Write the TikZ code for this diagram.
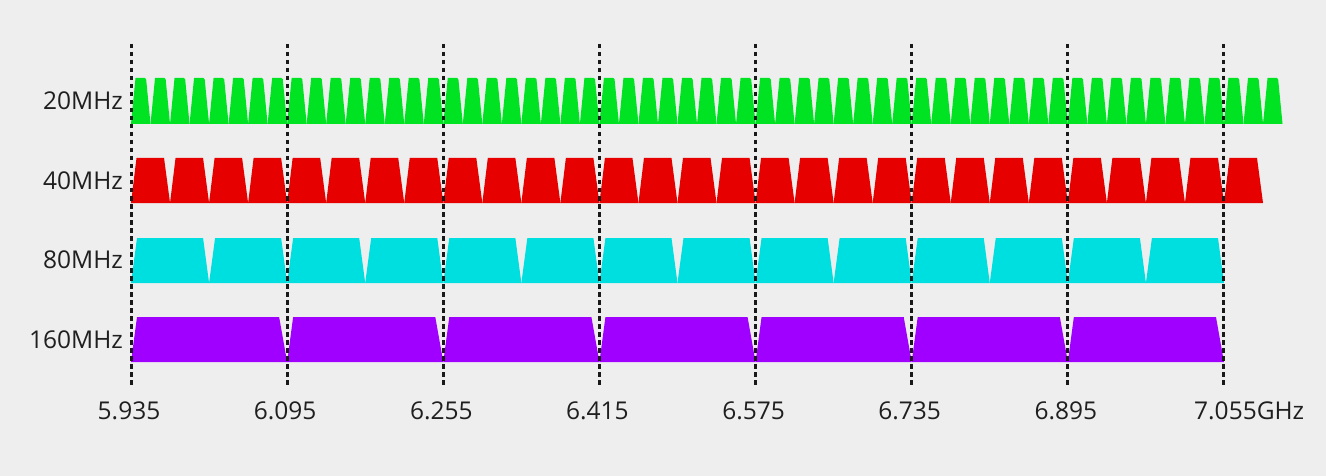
\documentclass[tikz,border=0pt]{standalone}
\usepackage{fontspec}
\setmainfont{Open Sans}
\definecolor{bg}{HTML}{EEEEEE}
\definecolor{cgreen}{HTML}{00E322}
\definecolor{cred}{HTML}{E60000}
\definecolor{ccyan}{HTML}{00DFDF}
\definecolor{cpurple}{HTML}{A000FF}
\tikzset{
  grid line/.style={line width=3pt, dash pattern=on 4.5pt off 3.5pt, black!90},
  rowlabel/.style={anchor=east, font=\fontsize{24.5}{26}\selectfont, text=black!88, inner sep=0pt},
  freqlabel/.style={anchor=base, font=\fontsize{24.5}{26}\selectfont, text=black!88, inner sep=0pt},
}
\begin{document}
\begin{tikzpicture}[x=1pt,y=-1pt]
\useasboundingbox (0,0) rectangle (1326,476);
\fill[bg] (0,0) rectangle (1326,476);
\def\xo{131}
\def\st{156.14}
% 20 MHz
\foreach \i in {0,...,58}{
  \pgfmathsetmacro{\xs}{\xo+\i*\st/8}
  \fill[cgreen, rounded corners=1.2pt] (\xs,124) [sharp corners] -- (\xs+4.5,78) [rounded corners=1.2pt] -- (\xs+\st/8-4.5,78) [sharp corners]-- (\xs+\st/8,124) -- cycle;
}
% 40 MHz
\foreach \i in {0,...,28}{
  \pgfmathsetmacro{\xs}{\xo+\i*\st/4}
  \fill[cred] (\xs,203) -- (\xs+5.5,158) -- (\xs+\st/4-6,158) -- (\xs+\st/4,203) -- cycle;
}
% 80 MHz
\foreach \i in {0,...,13}{
  \pgfmathsetmacro{\xs}{\xo+\i*\st/2}
  \fill[ccyan] (\xs,283) -- (\xs+6,238) -- (\xs+\st/2-6,238) -- (\xs+\st/2,283) -- cycle;
}
% 160 MHz
\foreach \i in {0,...,6}{
  \pgfmathsetmacro{\xs}{\xo+\i*\st}
  \fill[cpurple] (\xs,362) -- (\xs+6,317) -- (\xs+\st-8,317) -- (\xs+\st,362) -- cycle;
}
% grid lines
\foreach \i in {0,...,7}{
  \coordinate (t\i) at (\xo+\i*\st,44);
  \coordinate (b\i) at (\xo+\i*\st,387);
  \draw[grid line] (t\i) -- (b\i);
}
% row labels
\node[rowlabel] (l20) at (123,101) {20MHz};
\node[rowlabel] (l40) at (123,181) {40MHz};
\node[rowlabel] (l80) at (123,260) {80MHz};
\node[rowlabel] (l160) at (123,340) {160MHz};
% frequency labels
\foreach \f [count=\i from 0] in {5.935,6.095,6.255,6.415,6.575,6.735,6.895}{
  \node[freqlabel] (f\i) at (\xo+\i*\st-2,419) {\f};
}
\node[freqlabel, anchor=base west] (f7) at (1194,419) {7.055GHz};
\end{tikzpicture}
\end{document}
